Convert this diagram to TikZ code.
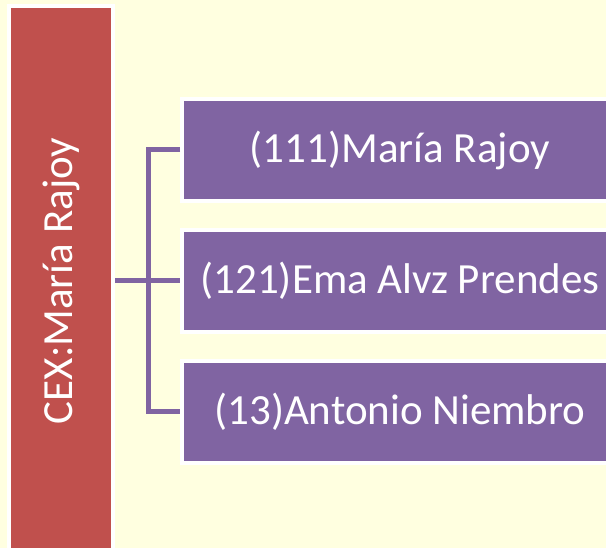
\documentclass[tikz,border=0pt]{standalone}
\usepackage{fontspec}
\setmainfont{Carlito}
\usepackage{graphicx}
\usepackage{tikz}
\usetikzlibrary{positioning}
\definecolor{cexred}{HTML}{C0504D}
\definecolor{purplebox}{HTML}{8064A2}
\definecolor{paleyellow}{HTML}{FFFFE0}

\begin{document}
\begin{tikzpicture}[
    x=1pt, y=1pt,
    cexbox/.style={
        rectangle,
        draw=white,
        line width=4pt,
        fill=cexred,
        minimum width=104pt,
        minimum height=550pt,
        inner sep=0pt,
        text=white,
        font=\fontsize{43}{50}\selectfont
    },
    member/.style={
        rectangle,
        draw=white,
        line width=4pt,
        fill=purplebox,
        minimum width=436pt,
        minimum height=102pt,
        inner sep=0pt,
        text=white,
        font=\fontsize{43}{50}\selectfont
    },
    link/.style={
        draw=purplebox,
        line width=5pt
    }
    ]

    % page
    \clip (0,0) rectangle (606,548);
    \fill[paleyellow] (0,0) rectangle (606,548);

    % CEX box
    \node[cexbox] (cex) at (61,267) {\rotatebox{90}{CEX:María Rajoy}};

    % members
    \node[member, right=65pt of cex] (m121) {(121)Ema Alvz Prendes};
    \node[member, above=25pt of m121] (m111) {(111)María Rajoy};
    \node[member, below=25pt of m121] (m13) {(13)Antonio Niembro};

    \coordinate[right=33pt of cex.east] (fork);

    \draw[link] (cex.east) -- (m121.west);
    \draw[link] (m111.west) -| (fork) |- (m13.west);
\end{tikzpicture}
\end{document}
